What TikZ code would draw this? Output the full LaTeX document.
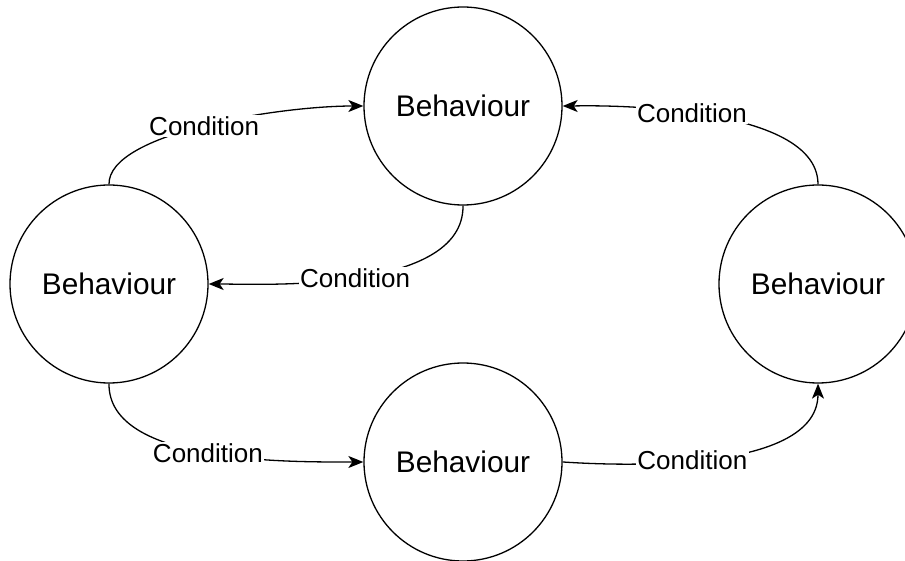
\documentclass[tikz,border=0pt]{standalone}
\usepackage{fontspec}
\setmainfont{Liberation Sans}
\usetikzlibrary{arrows.meta}
\begin{document}
\begin{tikzpicture}[x=1pt,y=-1pt,
  state/.style={circle,draw,line width=1.3pt,minimum size=198pt,inner sep=0pt,
    font=\fontsize{29.8pt}{34pt}\selectfont},
  cond/.style={fill=white,inner sep=1.5pt,font=\fontsize{26pt}{30pt}\selectfont},
  link/.style={line width=1.3pt,-{Stealth[length=15pt,width=12pt,inset=4pt]}}]
\useasboundingbox (0,0) rectangle (905,561);
% the four behaviours
\node[state] (top)    at (463,106) {Behaviour};
\node[state] (left)   at (109,284) {Behaviour};
\node[state] (bottom) at (463,462) {Behaviour};
\node[state] (right)  at (818,284) {Behaviour};
% transitions, each with its condition label
\draw[link] (left.north) .. controls (108,133) and (279,106) .. node[cond,pos=0.5]{Condition} (top.west);
\draw[link] (top.south) .. controls (464,294) and (259,284) .. node[cond,pos=0.5]{Condition} (left.east);
\draw[link] (left.south) .. controls (108,464) and (289,462) .. node[cond,pos=0.5]{Condition} (bottom.west);
\draw[link] (right.north) .. controls (818,98) and (567,106) .. node[cond,pos=0.5]{Condition} (top.east);
\draw[link] (bottom.east) .. controls (568,462) and (818,483) .. node[cond,pos=0.5]{Condition} (right.south);
\end{tikzpicture}
\end{document}
